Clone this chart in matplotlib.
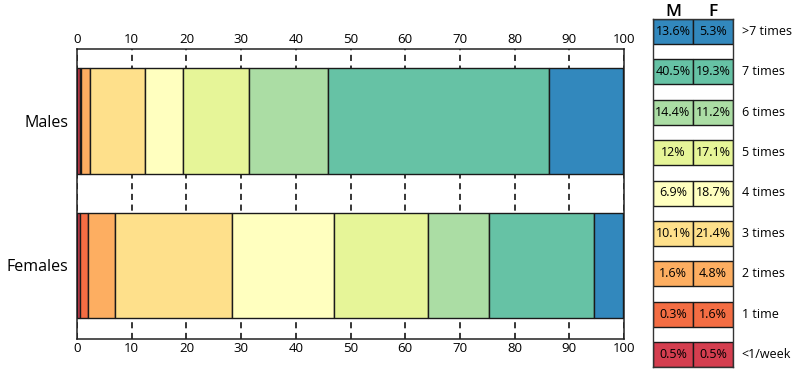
import numpy as np
import matplotlib.pyplot as plt

plt.rcParams['font.family'] = ['Open Sans', 'DejaVu Sans']

# frequency categories, lowest first
categories = ['<1/week', '1 time', '2 times', '3 times', '4 times',
              '5 times', '6 times', '7 times', '>7 times']
males = [0.5, 0.3, 1.6, 10.1, 6.9, 12, 14.4, 40.5, 13.6]
females = [0.5, 1.6, 4.8, 21.4, 18.7, 17.1, 11.2, 19.3, 5.3]
groups = ['Females', 'Males']
colors = ['#d53e4f', '#f46d43', '#fdae61', '#fee08b', '#ffffbf',
          '#e6f598', '#abdda4', '#66c2a5', '#3288bd']

fig = plt.figure(figsize=(8, 3.71), dpi=100)

# main stacked bar chart
ax = fig.add_axes([77/800, 32/371, 547/800, 290/371])
data = np.array([females, males])
left = np.zeros(2)
for k in range(len(categories)):
    ax.barh([0, 1], data[:, k], left=left, height=0.73, color=colors[k],
            edgecolor='#1a1a1a', linewidth=1.0, zorder=3)
    left += data[:, k]

ax.set_xlim(0, 100)
ax.set_ylim(-0.51, 1.50)
ax.set_xticks(np.arange(0, 101, 10))
ax.set_yticks([0, 1])
ax.set_yticklabels(groups, fontsize=11.5)
ax.tick_params(axis='x', length=0, labeltop=True, labelbottom=True,
               labelsize=9.5, pad=2)
ax.tick_params(axis='y', length=0, pad=6)
ax.grid(axis='x', color='black', linestyle=(0, (4, 3)), linewidth=1.1, zorder=1)
for s in ax.spines.values():
    s.set_color('#222222')
    s.set_linewidth(1.1)

# legend table with the percentages
lx = fig.add_axes([653/800, 4/371, 80/800, 348/371])
h = 25/40.375
ys = np.arange(len(categories))
lx.barh(ys, 1, left=0, height=h, align='edge', color=colors,
        edgecolor='#1a1a1a', linewidth=1.0)
lx.barh(ys, 1, left=1, height=h, align='edge', color=colors,
        edgecolor='#1a1a1a', linewidth=1.0)
for i in ys:
    lx.text(0.5, i + h/2, f'{males[i]:g}%', ha='center', va='center', fontsize=9)
    lx.text(1.5, i + h/2, f'{females[i]:g}%', ha='center', va='center', fontsize=9)
    lx.text(2.22, i + h/2, categories[i], ha='left', va='center', fontsize=9,
            clip_on=False)
lx.text(0.5, 8 + h + 0.07, 'M', ha='center', va='baseline', fontsize=12.5,
        fontweight='semibold', clip_on=False)
lx.text(1.5, 8 + h + 0.07, 'F', ha='center', va='baseline', fontsize=12.5,
        fontweight='semibold', clip_on=False)
lx.set_xlim(0, 2)
lx.set_ylim(0, 8 + h)
lx.set_xticks([])
lx.set_yticks([])
for s in lx.spines.values():
    s.set_color('#333333')
    s.set_linewidth(1.0)

fig.savefig('out.png', dpi=100)
